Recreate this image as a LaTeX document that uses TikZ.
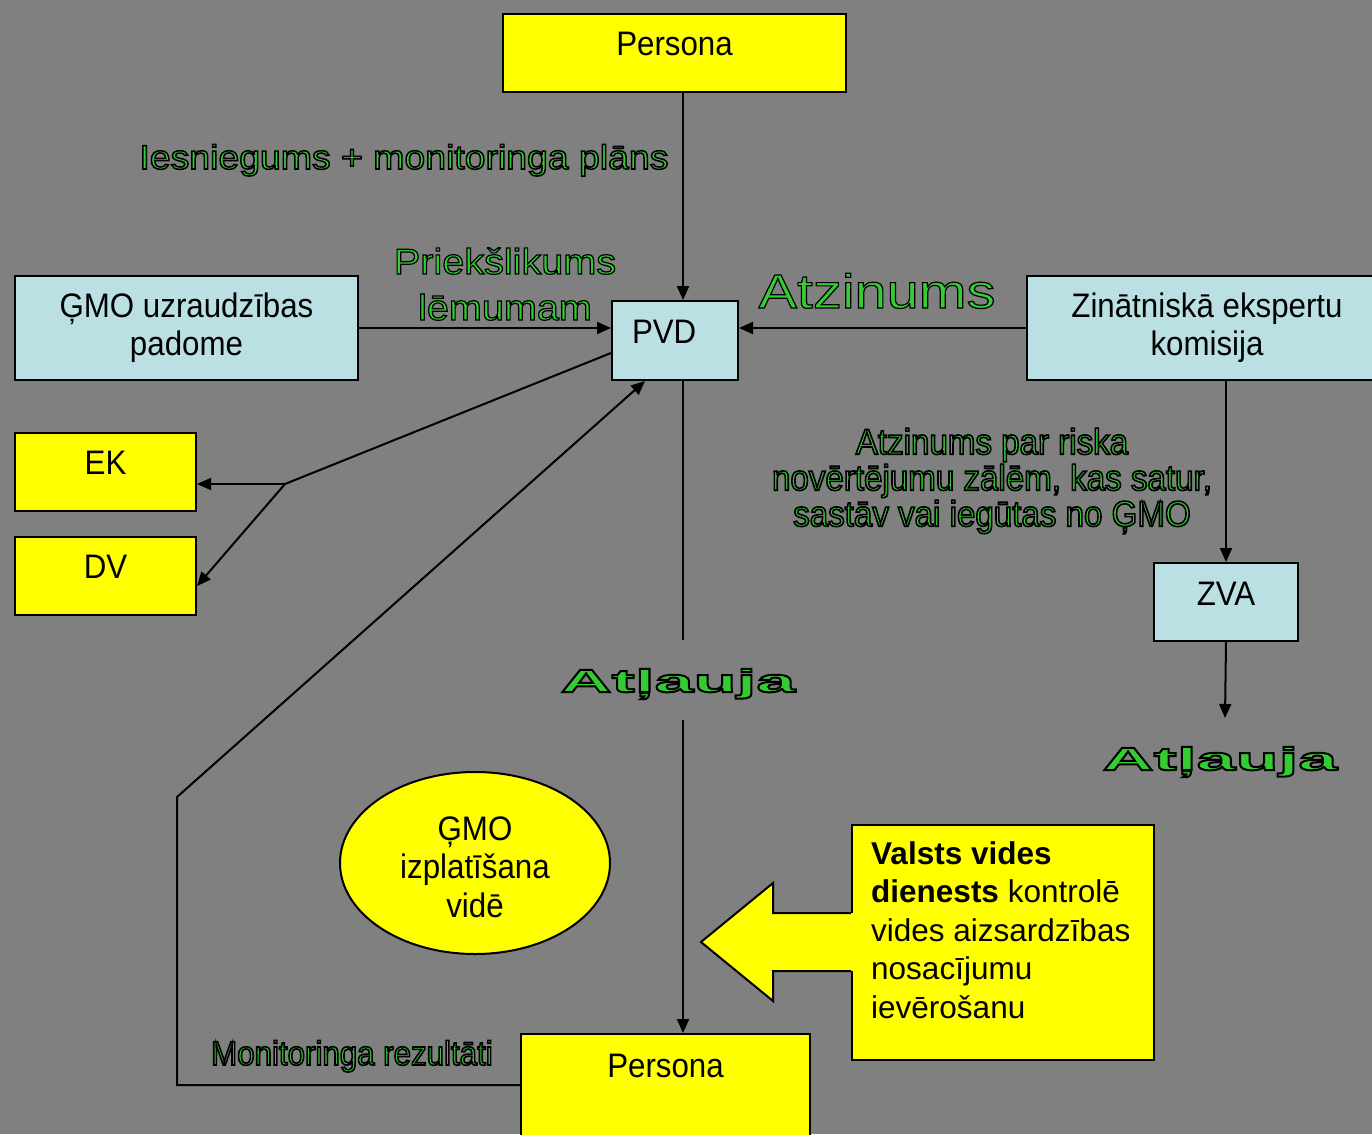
\documentclass[tikz,border=0pt]{standalone}
\usepackage{fontspec}
\setmainfont{Liberation Sans}
\newfontfamily\boxf[FakeStretch=0.92]{Liberation Sans}
\newfontfamily\lblA[FakeStretch=1.1]{Liberation Sans}
\newfontfamily\lblB[FakeStretch=1.2]{Liberation Sans}
\newfontfamily\wideb[FakeStretch=2.2]{Liberation Sans Bold}
\usetikzlibrary{arrows.meta,shapes.geometric}
\definecolor{bg}{HTML}{808080}
\definecolor{lb}{HTML}{BBE0E3}
\definecolor{yel}{HTML}{FFFF00}
\definecolor{grn}{HTML}{33CC33}
% outlined text: green fill, black stroke (PDF text render mode 2)
\newcommand\olt[2][1.5]{{\color{grn}\special{pdf:literal direct 0 G 2 Tr #1 w}#2\special{pdf:literal direct 0 Tr}}}
\tikzset{
  boxbase/.style={draw=black, line width=2pt, anchor=north west, inner sep=0pt,
    font=\boxf\fontsize{34}{38}\selectfont, text=black},
  ybox/.style={boxbase, fill=yel},
  bbox/.style={boxbase, fill=lb},
  arr/.style={line width=2pt, -{Triangle[length=14pt,width=12pt]}},
  conn/.style={line width=2pt},
  lbl/.style={inner sep=0pt, anchor=base},
}
\begin{document}
\begin{tikzpicture}[x=1pt,y=-1pt]
\fill[bg] (0,0) rectangle (1372,1134);
\useasboundingbox (0,0) rectangle (1372,1134);

% boxes
\node[ybox, minimum width=343pt, text height=42pt, text depth=36pt] (persTop) at (502,13) {Persona};
\node[bbox, minimum width=126pt, text height=42pt, text depth=37pt, text width=86pt, inner xsep=20pt, align=left] (pvd) at (611,300) {PVD};
\node[bbox, minimum width=343pt, minimum height=104pt, align=center] (gmo) at (14,275) {ĢMO uzraudzības\\padome};
\node[bbox, minimum width=360pt, minimum height=104pt, align=center] (zek) at (1026,275) {Zinātniskā ekspertu\\komisija};
\node[ybox, minimum width=181pt, text height=41pt, text depth=37pt] (ek) at (14,432) {EK};
\node[ybox, minimum width=181pt, text height=41pt, text depth=37pt] (dv) at (14,536) {DV};
\node[bbox, minimum width=144pt, text height=42pt, text depth=36pt] (zva) at (1153,562) {ZVA};
\node[ybox, minimum width=289pt, text height=43pt, text depth=87pt] (persBot) at (520,1033) {Persona};
\node[draw=black, line width=2pt, fill=yel, ellipse, minimum width=270pt, minimum height=182pt, inner sep=0pt] (ell) at (475,863) {};
\node[inner sep=0pt, align=center, font=\boxf\fontsize{34}{38.5}\selectfont] (elltxt) at ([yshift=-4pt]ell.center) {ĢMO\\izplatīšana\\vidē};
\node[draw=black, line width=2pt, fill=yel, anchor=north west, minimum width=302pt, minimum height=235pt, inner sep=0pt] (vvd) at (851,824) {};
\node[anchor=north west, inner sep=0pt, align=left, font=\fontsize{31.5}{38.5}\selectfont] (vvdtxt) at (871,841)
  {\textbf{Valsts vides}\\\textbf{dienests} kontrolē\\vides aizsardzības\\nosacījumu\\ievērošanu};

% big block arrow
\fill[yel] (853,913) -- (773,913) -- (773,883) -- (701,942) -- (773,1001) -- (773,971) -- (853,971) -- cycle;
\draw[line width=2pt, line join=miter] (851,913) -- (773,913) -- (773,883) -- (701,942) -- (773,1001) -- (773,971) -- (851,971);

% labels
\node[lbl, font=\lblA\fontsize{34}{38}\selectfont] (lIes) at (404,169) {\olt{Iesniegums + monitoringa plāns}};
\node[lbl, font=\lblA\fontsize{36}{46}\selectfont] (lPri1) at (505,274) {\olt[1.2]{Priekšlikums}};
\node[lbl, font=\lblA\fontsize{36}{46}\selectfont] (lPri2) at (505,320) {\olt[1.2]{lēmumam}};
\node[lbl, font=\lblB\fontsize{48}{52}\selectfont] (lAtz) at (877,308) {\olt[1.2]{Atzinums}};
\node[inner sep=0pt, align=center, font=\boxf\fontsize{36}{36}\selectfont] (lRis) at (992,481)
  {\olt[1.6]{Atzinums par riska}\\\olt[1.6]{novērtējumu zālēm, kas satur,}\\\olt[1.6]{sastāv vai iegūtas no ĢMO}};
\node[lbl, font=\wideb\fontsize{32}{36}\selectfont] (lAtl1) at (678,692) {\olt[2.0]{Atļauja}};
\node[lbl, font=\wideb\fontsize{32}{36}\selectfont] (lAtl2) at (1220,770) {\olt[2.0]{Atļauja}};
\node[lbl, font=\boxf\fontsize{34}{38}\selectfont] (lMon) at (352,1065) {\olt[1.6]{Monitoringa rezultāti}};

% helper coordinates
\coordinate (xl) at (683,0);
\coordinate (pvy) at (0,353);
\coordinate (jn) at (285,484);
\coordinate (dvy) at (0,586);
\coordinate (a1top) at (683,640);
\coordinate (a1bot) at (683,720);
\coordinate (zvaEnd) at (1225,718);
\coordinate (fb1) at (177,1085);
\coordinate (fb2) at (177,797);
\coordinate (fbx) at (645,0);

% connectors
\draw[arr] (persTop.south -| xl) -- (pvd.north -| xl);
\draw[arr] (gmo.east) -- (gmo.east -| pvd.west);
\draw[arr] (zek.west) -- (zek.west -| pvd.east);
\draw[arr] (zek.south -| zva.north) -- (zva.north);
\draw[arr] (zva.south) -- (zvaEnd);
\draw[conn] (pvd.west |- pvy) -- (jn);
\draw[arr] (jn) -- (jn -| ek.east);
\draw[arr] (jn) -- (dv.east |- dvy);
\draw[conn] (pvd.south -| xl) -- (a1top);
\draw[arr] (a1bot) -- (persBot.north -| xl);
\draw[arr, line join=miter] (persBot.west |- fb1) -- (fb1) -- (fb2) -- (pvd.south -| fbx);
\end{tikzpicture}
\end{document}
